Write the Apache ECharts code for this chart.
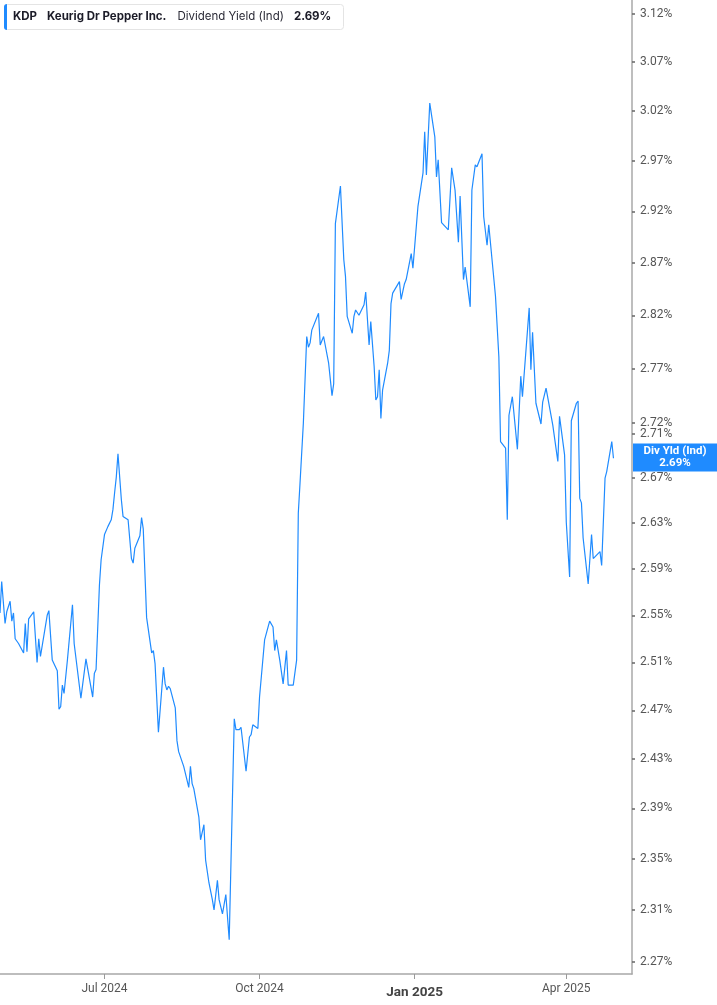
<!DOCTYPE html>
<html>
<head>
<meta charset="utf-8">
<title>KDP Dividend Yield</title>
<script src="https://cdn.jsdelivr.net/npm/echarts@6.0.0/dist/echarts.min.js"></script>
<style>
  html, body { margin: 0; padding: 0; background: #fff; }
  #chart { width: 717px; height: 1005px; }
</style>
</head>
<body>
<div id="chart"></div>
<script>
// trading days (vertices of the line)
var dates = [
  '2024-04-30','2024-05-01','2024-05-03','2024-05-04','2024-05-06','2024-05-07','2024-05-08','2024-05-09','2024-05-11','2024-05-14',
  '2024-05-15','2024-05-16','2024-05-17','2024-05-20','2024-05-22','2024-05-23','2024-05-24','2024-05-28','2024-05-29','2024-05-31',
  '2024-06-03','2024-06-04','2024-06-05','2024-06-06','2024-06-07','2024-06-09','2024-06-12','2024-06-13','2024-06-14','2024-06-17',
  '2024-06-20','2024-06-24','2024-06-25','2024-06-26','2024-06-28','2024-06-29','2024-07-01','2024-07-03','2024-07-05','2024-07-06',
  '2024-07-07','2024-07-08','2024-07-09','2024-07-10','2024-07-11','2024-07-12','2024-07-15','2024-07-16','2024-07-17','2024-07-18',
  '2024-07-19','2024-07-22','2024-07-23','2024-07-24','2024-07-26','2024-07-29','2024-07-30','2024-07-31','2024-08-02','2024-08-05',
  '2024-08-06','2024-08-07','2024-08-08','2024-08-09','2024-08-12','2024-08-13','2024-08-14','2024-08-15','2024-08-17','2024-08-20',
  '2024-08-21','2024-08-22','2024-08-23','2024-08-26','2024-08-27','2024-08-29','2024-08-30','2024-09-01','2024-09-03','2024-09-04',
  '2024-09-06','2024-09-07','2024-09-09','2024-09-11','2024-09-12','2024-09-13','2024-09-16','2024-09-17','2024-09-19','2024-09-20',
  '2024-09-23','2024-09-25','2024-09-26','2024-09-27','2024-09-30','2024-10-01','2024-10-04','2024-10-07','2024-10-09','2024-10-10',
  '2024-10-11','2024-10-13','2024-10-15','2024-10-17','2024-10-18','2024-10-21','2024-10-23','2024-10-24','2024-10-25','2024-10-27',
  '2024-10-29','2024-10-30','2024-10-31','2024-11-01','2024-11-05','2024-11-06','2024-11-08','2024-11-11','2024-11-13','2024-11-14',
  '2024-11-15','2024-11-18','2024-11-20','2024-11-21','2024-11-22','2024-11-25','2024-11-26','2024-11-27','2024-11-29','2024-12-02',
  '2024-12-03','2024-12-05','2024-12-06','2024-12-08','2024-12-09','2024-12-10','2024-12-11','2024-12-12','2024-12-13','2024-12-16',
  '2024-12-17','2024-12-18','2024-12-19','2024-12-23','2024-12-24','2024-12-26','2024-12-27','2024-12-30','2024-12-31','2025-01-03',
  '2025-01-06','2025-01-07','2025-01-08','2025-01-10','2025-01-13','2025-01-14','2025-01-15','2025-01-17','2025-01-21','2025-01-23',
  '2025-01-25','2025-01-27','2025-01-28','2025-01-30','2025-01-31','2025-02-03','2025-02-04','2025-02-06','2025-02-07','2025-02-10',
  '2025-02-11','2025-02-13','2025-02-14','2025-02-18','2025-02-20','2025-02-21','2025-02-24','2025-02-25','2025-02-26','2025-02-28',
  '2025-03-03','2025-03-05','2025-03-06','2025-03-10','2025-03-11','2025-03-12','2025-03-14','2025-03-17','2025-03-18','2025-03-20',
  '2025-03-24','2025-03-25','2025-03-27','2025-03-28','2025-03-31','2025-04-01','2025-04-03','2025-04-04','2025-04-07','2025-04-08',
  '2025-04-09','2025-04-10','2025-04-11','2025-04-14','2025-04-16','2025-04-17','2025-04-21','2025-04-22','2025-04-24','2025-04-25',
  '2025-04-28','2025-04-29'
];

// dividend yield (%)
var yields = [
  2.552,2.579,2.543,2.553,2.562,2.545,2.552,2.530,2.526,2.518,
  2.543,2.519,2.547,2.553,2.510,2.530,2.515,2.550,2.554,2.512,
  2.503,2.471,2.473,2.491,2.484,2.512,2.559,2.526,2.526,2.480,
  2.513,2.481,2.501,2.504,2.576,2.598,2.620,2.627,2.633,2.642,
  2.657,2.671,2.692,2.692,2.651,2.636,2.633,2.633,2.599,2.595,
  2.608,2.619,2.635,2.625,2.548,2.518,2.520,2.509,2.452,2.506,
  2.492,2.487,2.490,2.488,2.472,2.445,2.436,2.435,2.424,2.407,
  2.424,2.410,2.406,2.383,2.365,2.377,2.349,2.331,2.318,2.310,
  2.333,2.318,2.307,2.322,2.321,2.287,2.463,2.454,2.454,2.456,
  2.420,2.448,2.450,2.458,2.455,2.481,2.529,2.545,2.540,2.520,
  2.529,2.512,2.492,2.520,2.491,2.491,2.512,2.639,2.665,2.720,
  2.800,2.790,2.794,2.806,2.822,2.792,2.800,2.775,2.745,2.756,
  2.908,2.945,2.873,2.857,2.819,2.803,2.819,2.825,2.820,2.830,
  2.842,2.792,2.814,2.772,2.741,2.744,2.769,2.724,2.750,2.775,
  2.787,2.831,2.841,2.852,2.835,2.850,2.854,2.879,2.865,2.925,
  2.958,2.999,2.956,3.028,2.994,2.954,2.971,2.909,2.902,2.963,
  2.941,2.890,2.935,2.854,2.866,2.828,2.941,2.966,2.964,2.977,
  2.915,2.887,2.907,2.838,2.781,2.703,2.697,2.633,2.727,2.744,
  2.696,2.763,2.744,2.827,2.769,2.804,2.738,2.719,2.739,2.752,
  2.718,2.719,2.685,2.726,2.691,2.631,2.583,2.722,2.738,2.740,
  2.652,2.648,2.617,2.577,2.620,2.599,2.605,2.593,2.670,2.676,
  2.703,2.688
];

// y tick labels (log scaled axis)
var yTicks = [2.27, 2.31, 2.35, 2.39, 2.43, 2.47, 2.51, 2.55, 2.59, 2.63, 2.67,
              2.71, 2.72, 2.77, 2.82, 2.87, 2.92, 2.97, 3.02, 3.07, 3.12];
var yRange = [2.2609, 3.1346];

var xTicks = ['2024-07-01', '2024-10-01', '2025-01-01', '2025-04-01'];
var xRange = ['2024-04-30', '2025-05-10'];

var monthNames = ['Jan','Feb','Mar','Apr','May','Jun','Jul','Aug','Sep','Oct','Nov','Dec'];

var blue = '#1f8bff';
var lastYield = yields[yields.length - 1];
var lastText = lastYield.toFixed(2) + '%';

// 'YYYY-MM-DD' -> local midnight timestamp
function toTime(s) {
    var p = s.split('-');
    return new Date(+p[0], +p[1] - 1, +p[2]).getTime();
}

var chart = echarts.init(document.getElementById('chart'));

// the axis is logarithmic: plot ln(yield) on a value axis
var lineData = dates.map(function(d, i) {
    return [toTime(d), Math.log(yields[i])];
});
var yTickLogs = yTicks.map(function(v) { return Math.log(v); });
var xTickTimes = xTicks.map(toTime);

var option = {
    animation: false,
    backgroundColor: '#fff',
    grid: { left: 0, right: 85, top: 0, bottom: 31, containLabel: false },
    title: {
        left: 4,
        top: 4,
        padding: [7, 12, 7, 9],
        backgroundColor: '#fff',
        borderColor: '#e4e4e4',
        borderWidth: 1,
        borderRadius: 3,
        text: '{k|KDP}{n|Keurig Dr Pepper Inc.}{d|Dividend Yield (Ind)}{v|' + lastText + '}',
        textStyle: {
            fontFamily: 'Inter',
            fontSize: 11.5,
            lineHeight: 12,
            rich: {
                k: { fontFamily: 'Inter', fontSize: 11.5, fontWeight: 'bold', color: '#1c1c28', padding: [0, 10, 0, 0] },
                n: { fontFamily: 'Inter', fontSize: 11.5, fontWeight: 'bold', color: '#1c1c28', padding: [0, 11, 0, 0] },
                d: { fontFamily: 'Inter', fontSize: 11.5, fontWeight: 'normal', color: '#2a2a36', padding: [0, 10, 0, 0] },
                v: { fontFamily: 'Inter', fontSize: 11.5, fontWeight: 'bold', color: '#1c1c28' }
            }
        }
    },
    graphic: [{
        type: 'rect',
        left: 4,
        top: 4,
        z: 100,
        shape: { width: 3, height: 26, r: [3, 0, 0, 3] },
        style: { fill: blue }
    }],
    xAxis: {
        type: 'value',
        min: toTime(xRange[0]),
        max: toTime(xRange[1]),
        axisLine: { show: true, onZero: false, lineStyle: { color: '#a8a8a8', width: 1.5 } },
        axisTick: { show: true, length: 5, customValues: xTickTimes, lineStyle: { color: '#9a9a9a', width: 1 } },
        splitLine: { show: false },
        axisLabel: {
            customValues: xTickTimes,
            hideOverlap: false,
            margin: 9,
            fontFamily: 'Roboto',
            fontSize: 12,
            color: '#555',
            formatter: function(val) {
                var d = new Date(val);
                var s = monthNames[d.getMonth()] + ' ' + d.getFullYear();
                return d.getMonth() === 0 ? '{b|' + s + '}' : s;
            },
            rich: {
                b: { fontFamily: 'Roboto', fontWeight: 'bold', fontSize: 13.5, color: '#444', padding: [3, 0, 0, 0] }
            }
        }
    },
    yAxis: {
        type: 'value',
        position: 'right',
        min: Math.log(yRange[0]),
        max: Math.log(yRange[1]),
        axisLine: { show: true, onZero: false, lineStyle: { color: '#a8a8a8', width: 1.5 } },
        axisTick: {
            show: true,
            length: 3,
            customValues: yTickLogs,
            lineStyle: { color: '#666', width: 1.5 }
        },
        splitLine: { show: false },
        axisLabel: {
            customValues: yTickLogs,
            hideOverlap: false,
            margin: 8,
            fontFamily: 'Roboto',
            fontSize: 12,
            color: '#555',
            formatter: function(v) {
                return Math.exp(v).toFixed(2) + '%';
            }
        }
    },
    series: [{
        name: 'Div Yld (Ind)',
        type: 'line',
        data: lineData,
        symbol: 'none',
        showSymbol: false,
        lineStyle: { color: blue, width: 1.2 },
        itemStyle: { color: blue },
        z: 3,
        markLine: {
            silent: true,
            symbol: 'none',
            animation: false,
            z: 10,
            lineStyle: { color: 'rgba(0,0,0,0)', width: 1, type: 'solid' },
            data: [{ yAxis: Math.log(lastYield) }],
            label: {
                show: true,
                opacity: 1,
                position: 'end',
                distance: 1,
                offset: [0, 3],
                backgroundColor: blue,
                padding: [2, 2, 2, 2],
                formatter: '{a|Div Yld (Ind)}\n{a|' + lastText + '}',
                rich: {
                    a: {
                        width: 80,
                        align: 'center',
                        color: '#fff',
                        fontFamily: 'Roboto',
                        fontWeight: 'bold',
                        fontSize: 11.5,
                        lineHeight: 12
                    }
                }
            }
        }
    }]
};

chart.setOption(option);

window.addEventListener('resize', function() {
    chart.resize();
});
</script>
</body>
</html>
